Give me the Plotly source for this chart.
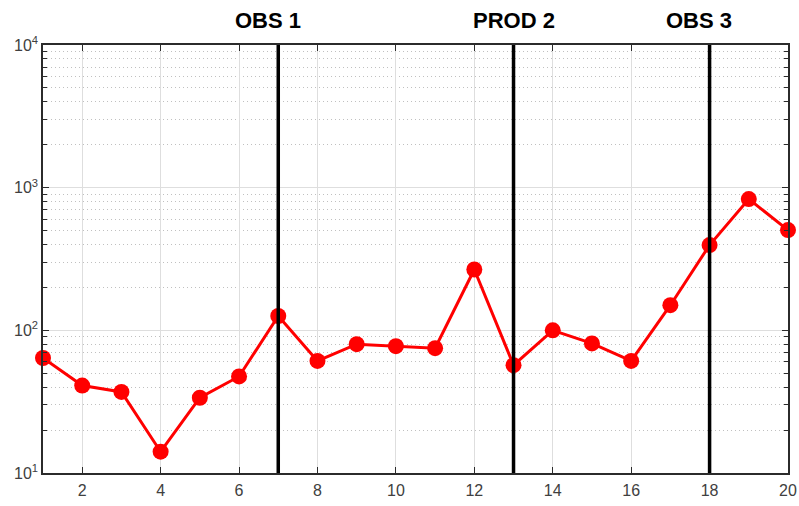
import plotly.graph_objects as go

# Time step index and measured value per step
steps = list(range(1, 21))
values = [64, 41, 37, 14.1, 33.7, 47.5, 126, 61, 80, 77.5, 75, 267,
          57, 100, 81, 61, 150, 396, 832, 504]

# Decade ticks on the log axis
y_ticks = [10, 100, 1000, 10000]
y_ticktext = ["10<sup>1</sup>", "10<sup>2</sup>", "10<sup>3</sup>", "10<sup>4</sup>"]

# Well events marked by vertical lines
event_steps = [7, 13, 18]
event_labels = ["OBS 1", "PROD 2", "OBS 3"]
label_shift = [-10, 0, -11]

fig = go.Figure()

fig.add_trace(go.Scatter(
    x=steps, y=values, mode="lines+markers",
    line=dict(color="#ff0000", width=3),
    marker=dict(color="#ff0000", size=16),
    showlegend=False, cliponaxis=False,
))

for xs, lab, sh in zip(event_steps, event_labels, label_shift):
    fig.add_shape(type="line", x0=xs, x1=xs, y0=0, y1=1, xref="x", yref="paper",
                  line=dict(color="black", width=3.5), layer="above")
    fig.add_annotation(x=xs, y=1, xref="x", yref="paper", text=f"<b>{lab}</b>",
                       showarrow=False, yanchor="bottom", yshift=10, xshift=sh,
                       font=dict(family="Liberation Sans, Arial", size=22, color="black"))

axis_col = "#2b2b2b"
tick_font = dict(family="Liberation Sans, Arial", size=16, color="#404040")
fig.update_layout(
    width=799, height=506,
    margin=dict(l=43, r=11, t=45, b=33, autoexpand=False),
    paper_bgcolor="white", plot_bgcolor="white",
    font=dict(family="Liberation Sans, Arial", size=16, color="#404040"),
    xaxis=dict(
        range=[1, 20], tickvals=list(range(2, 21, 2)), automargin=False,
        tickfont=tick_font,
        showgrid=True, gridcolor="#dedede", gridwidth=1,
        ticks="inside", ticklen=6, tickcolor=axis_col, tickwidth=1.2,
        showline=True, linecolor=axis_col, linewidth=1.5, mirror="allticks",
        zeroline=False, layer="above traces", ticklabelstandoff=2,
    ),
    yaxis=dict(
        type="log", range=[1, 4], automargin=False,
        tickvals=y_ticks, ticktext=y_ticktext, tickfont=tick_font,
        showgrid=True, gridcolor="#dedede", gridwidth=1,
        ticks="inside", ticklen=6, tickcolor=axis_col, tickwidth=1.2,
        showline=True, linecolor=axis_col, linewidth=1.5, mirror="allticks",
        zeroline=False, layer="above traces",
        minor=dict(
            tickvals=[m * 10 ** e for e in range(1, 4) for m in range(2, 10)],
            showgrid=True, griddash="1px,3px", gridcolor="#c0c0c0", gridwidth=1,
            ticks="inside", ticklen=4, tickcolor=axis_col,
        ),
    ),
)

fig.write_html("out.html")
